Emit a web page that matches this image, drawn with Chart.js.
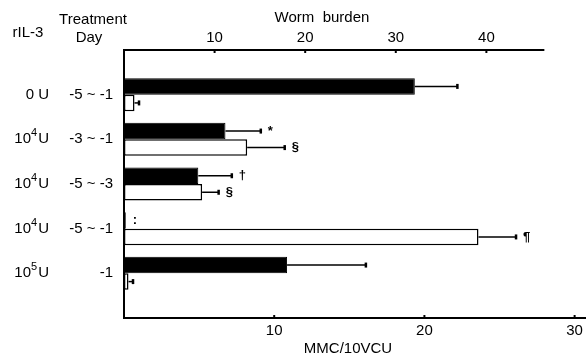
<!DOCTYPE html>
<html>
<head>
<meta charset="utf-8">
<script src="https://cdn.jsdelivr.net/npm/chart.js@4.4.0/dist/chart.umd.min.js"></script>
<style>
  html, body { margin: 0; padding: 0; background: #fff; }
  #wrap { width: 587px; height: 360px; }
</style>
</head>
<body>
<div id="wrap"><canvas id="myChart"></canvas></div>
<script>
// rows, top to bottom
const doses = ['0 U', '10⁴U', '10⁴U', '10⁴U', '10⁵U'];
const days = ['-5 ~ -1', '-3 ~ -1', '-5 ~ -3', '-5 ~ -1', '-1'];

// worm burden (black bars, top axis)
const wormBurden = [32.1, 11.2, 8.2, 0.2, 18.0];
const wormUpper = [36.8, 15.1, 11.9, null, 26.7];
const wormMarks = ['', '*', '†', ':', ''];

// MMC/10VCU (white bars, bottom axis)
const mmc = [0.7, 8.2, 5.2, 23.6, 0.3];
const mmcUpper = [1.0, 10.7, 6.3, 26.1, 0.6];
const mmcMarks = ['', '§', '§', '¶', ''];

const wormTicks = [10, 20, 30, 40];
const mmcTicks = [10, 20, 30];

// one empty slot above and below the rows
const pad = arr => [null, ...arr, null];
const rowLabels = ['', ...doses.map((d, i) => d + ' ' + days[i]), ''];

const FONT = "'Liberation Sans', Arial, sans-serif";
Chart.defaults.font.family = FONT;
Chart.defaults.font.size = 15;
Chart.defaults.color = '#000';

const SUP = { '⁰': '0', '¹': '1', '²': '2', '³': '3', '⁴': '4', '⁵': '5', '⁶': '6', '⁷': '7', '⁸': '8', '⁹': '9' };

function line(ctx, x1, y1, x2, y2) {
    ctx.beginPath();
    ctx.moveTo(x1, y1);
    ctx.lineTo(x2, y2);
    ctx.stroke();
}

// draws text right-aligned at x, with superscript digits raised and smaller
function drawDose(ctx, text, right, y) {
    const parts = [];
    for (const ch of text) {
        const sup = SUP[ch] !== undefined;
        const c = sup ? SUP[ch] : ch;
        if (parts.length && parts[parts.length - 1].sup === sup) parts[parts.length - 1].t += c;
        else parts.push({ t: c, sup });
    }
    const fontOf = p => (p.sup ? '11px ' : '15px ') + FONT;
    let w = 0;
    parts.forEach(p => { ctx.font = fontOf(p); w += ctx.measureText(p.t).width + (p.sup ? 1 : 0); });
    let x = right - w;
    ctx.textAlign = 'left';
    parts.forEach(p => {
        ctx.font = fontOf(p);
        ctx.fillText(p.t, x, p.sup ? y - 6 : y);
        x += ctx.measureText(p.t).width + (p.sup ? 1 : 0);
    });
}

const overlay = {
    id: 'overlay',
    afterDatasetsDraw(chart) {
        const {ctx, chartArea, scales} = chart;
        ctx.save();
        ctx.strokeStyle = '#000';
        ctx.fillStyle = '#000';
        ctx.font = 'bold 13px ' + FONT;
        ctx.textAlign = 'left';
        ctx.textBaseline = 'middle';
        [[0, wormUpper, wormMarks, scales.x], [1, mmcUpper, mmcMarks, scales.x2]].forEach(([i, upper, marks, xs]) => {
            const meta = chart.getDatasetMeta(i);
            upper.forEach((u, k) => {
                const bar = meta.data[k + 1];
                let end = bar.x;
                if (u != null) {
                    end = xs.getPixelForValue(u);
                    ctx.lineWidth = 1.5;
                    line(ctx, bar.x, bar.y, end, bar.y);
                    ctx.lineWidth = 2.5;
                    line(ctx, end, bar.y - 2.5, end, bar.y + 2.5);
                }
                if (marks[k]) ctx.fillText(marks[k], end + 7, bar.y);
            });
        });

        // top axis line stops short of the right edge
        ctx.lineWidth = 2;
        line(ctx, chartArea.left, chartArea.top, scales.x.getPixelForValue(46.4), chartArea.top);
        // small inward tick notches
        wormTicks.forEach(v => {
            const px = scales.x.getPixelForValue(v);
            line(ctx, px, chartArea.top, px, chartArea.top + 3);
        });
        mmcTicks.forEach(v => {
            const px = scales.x2.getPixelForValue(v);
            line(ctx, px, chartArea.bottom, px, chartArea.bottom - 3);
        });

        // row labels
        const y = scales.y;
        doses.forEach((d, k) => {
            const py = y.getPixelForValue(k + 1);
            drawDose(ctx, d, 49, py);
            ctx.font = '15px ' + FONT;
            ctx.textAlign = 'right';
            ctx.fillText(days[k], 113, py);
        });

        // headers
        ctx.font = '15px ' + FONT;
        ctx.textAlign = 'center';
        ctx.fillText('rIL-3', 28, 33);
        ctx.fillText('Treatment', 93, 20);
        ctx.fillText('Day', 89, 38);
        ctx.fillText('Worm  burden', 322, 18);
        ctx.fillText('MMC/10VCU', 348, 349);
        ctx.restore();
    }
};

const ctx = document.getElementById('myChart').getContext('2d');
const myChart = new Chart(ctx, {
    type: 'bar',
    data: {
        labels: rowLabels,
        datasets: [
            {
                label: 'Worm burden',
                data: pad(wormBurden),
                xAxisID: 'x',
                backgroundColor: '#000',
                borderColor: '#000',
                borderWidth: 1
            },
            {
                label: 'MMC/10VCU',
                data: pad(mmc),
                xAxisID: 'x2',
                backgroundColor: '#fff',
                borderColor: '#000',
                borderWidth: 1.5,
                borderSkipped: false
            }
        ]
    },
    options: {
        indexAxis: 'y',
        responsive: true,
        maintainAspectRatio: false,
        animation: false,
        layout: { padding: 0 },
        datasets: { bar: { barPercentage: 1, categoryPercentage: 0.74 } },
        plugins: { legend: { display: false }, tooltip: { enabled: false } },
        scales: {
            y: {
                type: 'category',
                offset: false,
                ticks: { display: false },
                grid: { display: false, drawTicks: false },
                border: { display: true, color: '#000', width: 2 },
                afterFit: s => { s.width = 124; }
            },
            x: {
                position: 'top',
                min: 0,
                max: 50.9,
                afterBuildTicks: s => { s.ticks = wormTicks.map(v => ({ value: v })); },
                ticks: { padding: 3, maxRotation: 0, autoSkip: false },
                grid: { display: false, drawTicks: false },
                border: { display: false },
                afterFit: s => { s.height = 50; }
            },
            x2: {
                position: 'bottom',
                min: 0,
                max: 30.7,
                afterBuildTicks: s => { s.ticks = mmcTicks.map(v => ({ value: v })); },
                ticks: { padding: 4, maxRotation: 0, autoSkip: false },
                grid: { display: false, drawTicks: false },
                border: { display: true, color: '#000', width: 2 },
                afterFit: s => { s.height = 42; }
            }
        }
    },
    plugins: [overlay]
});
</script>
</body>
</html>
